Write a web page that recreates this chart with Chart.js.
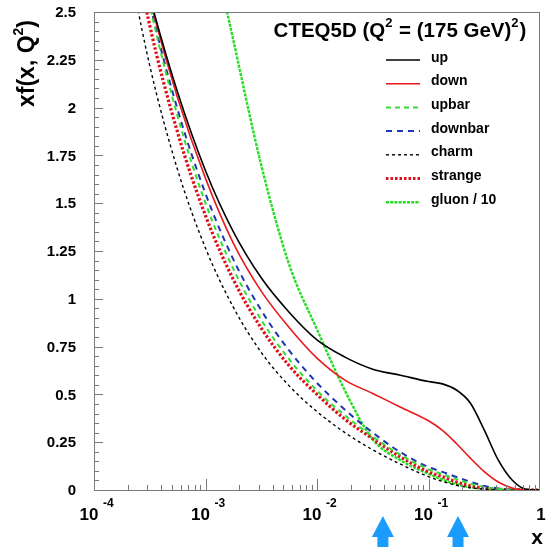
<!DOCTYPE html>
<html><head><meta charset="utf-8">
<script src="https://cdn.jsdelivr.net/npm/chart.js@4.4.0/dist/chart.umd.min.js"></script>
<style>html,body{margin:0;padding:0;background:#fff;}canvas{display:block;}</style>
</head><body>
<canvas id="c" width="546" height="547"></canvas>
<script>
// ---- data ----
const xValues = [0.000178,0.000316,0.000562,0.001,0.00178,0.00316,0.00562,0.01,0.0178,0.0316,0.0562,0.1,0.1334,0.178,0.2371,0.316,0.4217,0.562,0.75,1.0];
const up      = [3.16,2.58,2.08,1.67,1.35,1.11,0.93,0.785,0.695,0.632,0.60,0.567,0.555,0.523,0.455,0.314,0.157,0.052,0.004,0];
const down    = [3.21,2.57,2.05,1.63,1.29,1.04,0.85,0.69,0.575,0.505,0.433,0.362,0.312,0.243,0.167,0.096,0.042,0.011,0.001,0];
const upbar   = [3.30,2.54,1.955,1.50,1.155,0.89,0.684,0.52,0.39,0.28,0.183,0.108,0.083,0.057,0.034,0.016,0.006,0.001,0,0];
const downbar = [3.27,2.55,1.99,1.55,1.205,0.94,0.73,0.56,0.42,0.30,0.197,0.12,0.095,0.068,0.043,0.021,0.008,0.002,0,0];
const charm   = [2.94,2.22,1.675,1.265,0.955,0.72,0.545,0.41,0.30,0.21,0.135,0.07,0.045,0.025,0.012,0.005,0.002,0,0,0];
const strange = [3.17,2.43,1.87,1.435,1.10,0.847,0.65,0.50,0.37,0.268,0.172,0.095,0.07,0.042,0.022,0.01,0.004,0.001,0,0];
const gluon10 = [null,null,3.75,3.02,2.35,1.70,1.18,0.84,0.52,0.265,0.155,0.085,0.055,0.03,0.014,0.006,0.002,0.0005,0,0];
const seriesLabels = ['up','down','upbar','downbar','charm','strange','gluon / 10'];
const yTickLabels = ['0','0.25','0.5','0.75','1','1.25','1.5','1.75','2','2.25','2.5'];
const xTickExponents = [-4,-3,-2,-1,0];
const arrowX = [0.039, 0.184];

const FONT = '"Liberation Sans", Arial, Helvetica, sans-serif';
function pts(arr){ const o=[]; xValues.forEach((x,i)=>{ if(arr[i]!==null) o.push({x:x,y:arr[i]}); }); return o; }

const styles = [
  {c:'#000000', w:1.6, d:[]},
  {c:'#e8191c', w:1.6, d:[]},
  {c:'#33dd33', w:2, d:[5,4]},
  {c:'#2035b0', w:2, d:[6,5]},
  {c:'#000000', w:1.4, d:[3,3]},
  {c:'#e0101a', w:3.2, d:[2.5,2]},
  {c:'#22dd22', w:2.4, d:[3,1.2]}
];
const seriesData = [up,down,upbar,downbar,charm,strange,gluon10];
const datasets = seriesData.map((arr,i)=>({
  label: seriesLabels[i], data: pts(arr), borderColor: styles[i].c, backgroundColor: styles[i].c,
  borderWidth: styles[i].w, borderDash: styles[i].d, pointRadius: 0, fill:false,
  cubicInterpolationMode:'monotone', showLine:true
}));

function drawRich(ctx, parts, x, y, size, align){
  let w=0; const ws=[];
  parts.forEach(p=>{ ctx.font='bold '+(p.sup?Math.round(size*0.62):size)+'px '+FONT; const m=ctx.measureText(p.t).width; ws.push(m); w+=m+(p.gap||0); });
  let cx = align==='center'? x-w/2 : (align==='right'? x-w : x);
  parts.forEach((p,i)=>{ ctx.font='bold '+(p.sup?Math.round(size*0.62):size)+'px '+FONT;
    ctx.fillText(p.t, cx, p.sup? y-size*0.5 : y); cx+=ws[i]+(p.gap||0); });
  return w;
}

const deco = {
  id:'deco',
  beforeDraw(chart){ const ctx=chart.ctx; ctx.save(); ctx.fillStyle='#fff'; ctx.fillRect(0,0,chart.width,chart.height); ctx.restore(); },
  afterDraw(chart){
    const ctx=chart.ctx, a=chart.chartArea, xs=chart.scales.x, ys=chart.scales.y;
    ctx.save();
    ctx.strokeStyle='#7a7a7a'; ctx.lineWidth=1;
    ctx.strokeRect(Math.round(a.left)+0.5, Math.round(a.top)+0.5, Math.round(a.right-a.left)-1, Math.round(a.bottom-a.top));
    ctx.beginPath();
    for(let k=0;k<=50;k++){ const v=k*0.05; const py=Math.round(ys.getPixelForValue(v))+0.5; const L=(k%5===0)?9:5;
      ctx.moveTo(a.left, py); ctx.lineTo(a.left+L, py); }
    for(let e=-4;e<0;e++){ for(let m=1;m<10;m++){ const v=m*Math.pow(10,e); const px=Math.round(xs.getPixelForValue(v))+0.5; const L=(m===1)?11:5;
      ctx.moveTo(px, a.bottom); ctx.lineTo(px, a.bottom-L);} }
    ctx.stroke();
    ctx.fillStyle='#000'; ctx.textAlign='right'; ctx.textBaseline='middle'; ctx.font='bold 15px '+FONT;
    yTickLabels.forEach(t=>{ const v=parseFloat(t); ctx.fillText(t, 76, ys.getPixelForValue(v)+1); });
    ctx.textAlign='left'; ctx.textBaseline='alphabetic';
    xTickExponents.forEach(e=>{ const px=xs.getPixelForValue(Math.pow(10,e));
      if(e===0){ ctx.font='bold 17px '+FONT; ctx.textAlign='center'; ctx.fillText('1', px+1, 520); ctx.textAlign='left'; }
      else { ctx.font='bold 17px '+FONT; ctx.fillText('10', px-14.5, 520); ctx.font='bold 12px '+FONT; ctx.fillText(String(e), px+9, 507); }
    });
    ctx.font='bold 21px '+FONT; ctx.textAlign='center'; ctx.fillText('x', 537, 544);
    ctx.save(); ctx.translate(34,107); ctx.rotate(-Math.PI/2); ctx.textAlign='left';
    drawRich(ctx,[{t:'xf(x, Q'},{t:'2',sup:true},{t:')'}],0,0,23,'left'); ctx.restore();
    ctx.textAlign='left';
    drawRich(ctx,[{t:'CTEQ5D (Q'},{t:'2',sup:true,gap:1},{t:' = (175 GeV)'},{t:'2',sup:true,gap:1},{t:')'}],400,37,20.5,'center');
    const ds=chart.data.datasets;
    ds.forEach((d,i)=>{ const ly=60+i*23.7;
      ctx.save(); ctx.strokeStyle=d.borderColor; ctx.lineWidth=d.borderWidth; ctx.setLineDash(d.borderDash);
      ctx.beginPath(); ctx.moveTo(386,ly); ctx.lineTo(420,ly); ctx.stroke(); ctx.restore();
      ctx.font='bold 14px '+FONT; ctx.fillStyle='#000'; ctx.textAlign='left'; ctx.fillText(d.label, 431, ly+1.5);
    });
    ctx.fillStyle='#1a9cff';
    arrowX.forEach(v=>{ const cx=xs.getPixelForValue(v);
      ctx.beginPath(); ctx.moveTo(cx,516); ctx.lineTo(cx+11,537); ctx.lineTo(cx+5.5,537); ctx.lineTo(cx+5.5,548);
      ctx.lineTo(cx-5.5,548); ctx.lineTo(cx-5.5,537); ctx.lineTo(cx-11,537); ctx.closePath(); ctx.fill(); });
    ctx.restore();
  }
};

new Chart(document.getElementById('c'), {
  type:'scatter',
  data:{datasets},
  options:{
    responsive:false, animation:false, devicePixelRatio:1,
    layout:{padding:{left:94,right:6,top:12,bottom:57}},
    plugins:{legend:{display:false}, tooltip:{enabled:false}, title:{display:false}},
    scales:{
      x:{type:'logarithmic', min:1e-4, max:1, display:false},
      y:{type:'linear', min:0, max:2.5, display:false}
    }
  },
  plugins:[deco]
});
</script>
</body></html>
